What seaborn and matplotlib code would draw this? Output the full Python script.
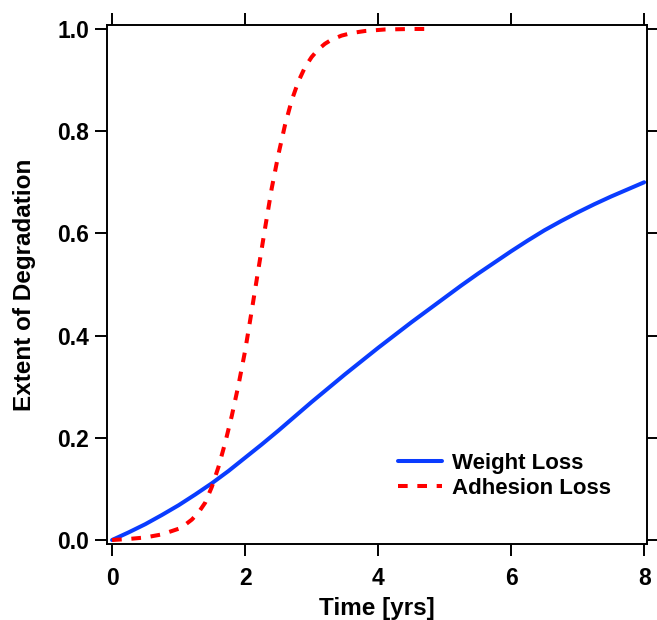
import matplotlib
matplotlib.use("Agg")
import matplotlib.pyplot as plt
import seaborn as sns
import pandas as pd

# Weight loss curve (time in years, fraction degraded)
weight_time = [0, 0.25, 0.5, 0.75, 1.0, 1.25, 1.5, 1.75, 2.0, 2.25, 2.5, 2.75, 3.0, 3.25, 3.5, 3.75,
               4.0, 4.25, 4.5, 4.75, 5.0, 5.25, 5.5, 5.75, 6.0, 6.25, 6.5, 6.75, 7.0, 7.25, 7.5, 7.75, 8.0]
weight_loss = [0.0, 0.015, 0.031, 0.049, 0.068, 0.089, 0.111, 0.135, 0.161, 0.187, 0.214, 0.242, 0.270,
               0.297, 0.324, 0.350, 0.376, 0.401, 0.426, 0.450, 0.474, 0.498, 0.521, 0.543, 0.565, 0.586,
               0.606, 0.624, 0.641, 0.657, 0.672, 0.686, 0.700]

# Adhesion loss curve
adhesion_time = [0, 0.25, 0.5, 0.75, 1.0, 1.1, 1.2, 1.3, 1.4, 1.5, 1.6, 1.7, 1.8, 1.9, 2.0, 2.1, 2.2,
                 2.3, 2.4, 2.5, 2.6, 2.7, 2.8, 2.9, 3.0, 3.1, 3.2, 3.3, 3.45, 3.6, 3.8, 4.1, 4.5, 4.8]
adhesion_loss = [0.0, 0.002, 0.005, 0.011, 0.022, 0.030, 0.040, 0.054, 0.073, 0.104, 0.143, 0.190, 0.243,
                 0.303, 0.370, 0.449, 0.530, 0.610, 0.688, 0.754, 0.812, 0.860, 0.897, 0.925, 0.945, 0.960,
                 0.971, 0.979, 0.987, 0.992, 0.996, 0.999, 1.0, 1.0]

series_names = ["Weight Loss", "Adhesion Loss"]
x_ticks = [0, 2, 4, 6, 8]
y_ticks = [0.0, 0.2, 0.4, 0.6, 0.8, 1.0]

sns.set_style("ticks")
plt.rcParams["font.family"] = ["Liberation Sans", "DejaVu Sans"]
plt.rcParams["font.weight"] = "bold"
plt.rcParams["text.color"] = "black"
plt.rcParams["axes.labelcolor"] = "black"
plt.rcParams["xtick.color"] = "black"
plt.rcParams["ytick.color"] = "black"

TICK_FS = 16.5
LABEL_FS = 17.5
LEGEND_FS = 16

weight_df = pd.DataFrame({"t": weight_time, "v": weight_loss})
adhesion_df = pd.DataFrame({"t": adhesion_time, "v": adhesion_loss})

fig = plt.figure(figsize=(6.57, 6.2), dpi=100)
ax = fig.add_axes([0.163, 0.1226, 0.822, 0.8371])

sns.lineplot(data=weight_df, x="t", y="v", ax=ax, color="#0a3cff", linewidth=2.9,
             label=series_names[0], estimator=None, sort=False)
sns.lineplot(data=adhesion_df, x="t", y="v", ax=ax, color="#ff0000", linewidth=2.9,
             label=series_names[1], estimator=None, sort=False)
ax.lines[1].set_linestyle((0, (2.4, 2.4)))
ax.lines[1].set_dash_capstyle("butt")

ax.set_xlim(-0.075, 8.045)
ax.set_ylim(-0.0078, 1.0078)
ax.set_xticks(x_ticks)
ax.set_yticks(y_ticks)
ax.set_xticklabels([str(v) for v in x_ticks])
ax.set_yticklabels([f"{v:.1f}" for v in y_ticks])

for side in ["top", "right", "bottom", "left"]:
    ax.spines[side].set_visible(True)
    ax.spines[side].set_linewidth(1.4)
    ax.spines[side].set_color("black")

ax.tick_params(axis="both", which="major", direction="out", length=8.6, width=1.4,
               color="black", labelcolor="black", labelsize=TICK_FS, top=True, right=True,
               labeltop=False, labelright=False)
ax.tick_params(axis="x", pad=8)
ax.tick_params(axis="y", pad=4.3)
for lbl in ax.get_xticklabels() + ax.get_yticklabels():
    lbl.set_fontweight("bold")

ax.set_xlabel("Time [yrs]", fontsize=LABEL_FS, fontweight="bold", labelpad=5)
ax.set_ylabel("Extent of Degradation", fontsize=LABEL_FS, fontweight="bold", labelpad=15)

leg = ax.legend(loc="upper left", bbox_to_anchor=(0.539, 0.175), frameon=False,
                fontsize=LEGEND_FS, handlelength=1.95, handletextpad=0.46, labelspacing=0.18,
                borderpad=0, borderaxespad=0)
for t in leg.get_texts():
    t.set_fontweight("bold")
    t.set_color("black")

fig.savefig("out.png", dpi=100)
